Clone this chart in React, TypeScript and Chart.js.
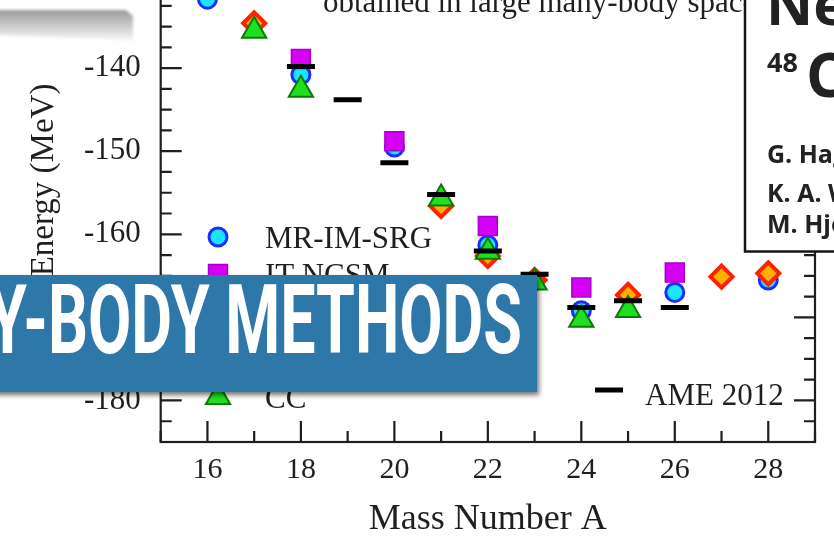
import React, { useEffect, useRef } from 'react';
import { Chart, registerables } from 'chart.js';
import { drawPoint } from 'chart.js/helpers';

Chart.register(...registerables);

// Ground-state energies of the oxygen isotopes (MeV)
const massNumbers = [16, 17, 18, 19, 20, 21, 22, 23, 24, 25, 26, 27, 28];
const mrImSrg = [-131.7, null, -140.8, null, -149.5, null, -161.3, null, -169.2, null, -167.0, null, -165.5];
const itNcsm = [null, null, -138.9, null, -148.8, null, -159.0, null, -166.4, null, -164.6, null, null];
const scgf = [null, -134.6, null, null, null, -156.6, -162.6, -165.5, null, -167.3, null, -165.1, -164.7];
const coupledCluster = [null, -135.5, -142.6, null, null, -155.7, -162.1, -165.8, -170.3, -169.1, null, null, null];
const ame2012 = [null, null, -139.8, -143.8, -151.4, -155.2, -162.0, -164.8, -168.8, -168.0, -168.8, null, null];

const xMajorTicks = [16, 18, 20, 22, 24, 26, 28];
const yMajorTicks = [-180, -170, -160, -150, -140, -130];

const W = 834;
const H = 544;
const SHIFT = 60; // canvas starts above the page so the plot's top runs off the edge
const SERIF = '"Liberation Serif", "Times New Roman", serif';
const INK = '#1f1f1f';

const styles = {
  ame: { pointStyle: 'line', radius: 14, borderWidth: 5, bg: '#000000', border: '#000000' },
  cc: { pointStyle: 'triangle', radius: 14, borderWidth: 2, bg: '#1fe01f', border: '#0b7a0b' },
  scgf: { pointStyle: 'rectRot', radius: 11, borderWidth: 4, bg: '#ffb000', border: '#ff2200' },
  ncsm: { pointStyle: 'rect', radius: 13.4, borderWidth: 1.5, bg: '#d600f4', border: '#a800cc' },
  srg: { pointStyle: 'circle', radius: 9, borderWidth: 3, bg: '#1ae4ff', border: '#1b2dff' },
};

function pts(values: (number | null)[]) {
  const out: { x: number; y: number }[] = [];
  values.forEach((v, i) => {
    if (v !== null) out.push({ x: massNumbers[i], y: v });
  });
  return out;
}

function ds(label: string, values: (number | null)[], s: any) {
  return {
    label,
    data: pts(values),
    showLine: false,
    pointStyle: s.pointStyle,
    pointRadius: s.radius,
    pointBorderWidth: s.borderWidth,
    pointBackgroundColor: s.bg,
    pointBorderColor: s.border,
    backgroundColor: s.bg,
    borderColor: s.border,
  };
}

const legendEntries = [
  { text: 'MR-IM-SRG', style: styles.srg, mx: 218, my: 237, tx: 265, ty: 248 },
  { text: 'IT-NCSM', style: styles.ncsm, mx: 218, my: 274, tx: 265, ty: 285 },
  { text: 'CC', style: styles.cc, mx: 218, my: 397, tx: 265, ty: 408 },
  { text: 'AME 2012', style: styles.ame, mx: 609, my: 390, tx: 645, ty: 405 },
];

const framePlugin = {
  id: 'frameTicks',
  beforeDatasetsDraw(chart: any) {
    const { ctx, chartArea: a, scales } = chart;
    ctx.save();
    ctx.strokeStyle = INK;
    ctx.lineWidth = 2.2;
    ctx.strokeRect(a.left, a.top, a.right - a.left, a.bottom - a.top);
    ctx.beginPath();
    scales.x.ticks.forEach((t: any) => {
      const px = scales.x.getPixelForValue(t.value);
      const len = Math.abs(t.value % 2) < 1e-6 ? 21 : 11;
      ctx.moveTo(px, a.bottom);
      ctx.lineTo(px, a.bottom - len);
      ctx.moveTo(px, a.top);
      ctx.lineTo(px, a.top + len);
    });
    scales.y.ticks.forEach((t: any) => {
      const py = scales.y.getPixelForValue(t.value);
      const len = Math.abs(t.value % 10) < 1e-6 ? 21 : 11;
      ctx.moveTo(a.left, py);
      ctx.lineTo(a.left + len, py);
      ctx.moveTo(a.right, py);
      ctx.lineTo(a.right - len, py);
    });
    ctx.stroke();
    ctx.restore();
  },
  afterDatasetsDraw(chart: any) {
    const { ctx, chartArea: a } = chart;
    ctx.save();
    ctx.fillStyle = INK;
    ctx.font = `31px ${SERIF}`;
    ctx.textBaseline = 'alphabetic';
    ctx.textAlign = 'left';
    ctx.fillText('obtained in large many-body space', 323, 11.5 + SHIFT);
    legendEntries.forEach((e) => {
      const s = e.style;
      ctx.fillStyle = s.bg;
      ctx.strokeStyle = s.border;
      ctx.lineWidth = s.borderWidth;
      drawPoint(ctx, { pointStyle: s.pointStyle, radius: s.radius, rotation: 0, borderWidth: s.borderWidth }, e.mx, e.my + SHIFT);
      ctx.fillStyle = INK;
      ctx.fillText(e.text, e.tx, e.ty + SHIFT);
    });
    // axis titles
    ctx.font = `36px ${SERIF}`;
    ctx.textAlign = 'center';
    ctx.fillText('Mass Number A', (a.left + a.right) / 2, 529 + SHIFT);
    ctx.font = `33px ${SERIF}`;
    ctx.translate(44.5, 180 + SHIFT);
    ctx.rotate(-Math.PI / 2);
    ctx.textBaseline = 'middle';
    ctx.fillText('Energy (MeV)', 0, 0);
    ctx.restore();
  },
};

export default function App() {
  const ref = useRef<HTMLCanvasElement>(null);

  useEffect(() => {
    if (!ref.current) return;
    const chart = new Chart(ref.current, {
      type: 'scatter',
      data: {
        datasets: [
          ds('AME 2012', ame2012, styles.ame),
          ds('CC', coupledCluster, styles.cc),
          ds('SCGF', scgf, styles.scgf),
          ds('IT-NCSM', itNcsm, styles.ncsm),
          ds('MR-IM-SRG', mrImSrg, styles.srg),
        ] as any,
      },
      options: {
        animation: false,
        responsive: false,
        events: [],
        layout: { padding: { top: 24.25, right: 10.7, left: 0, bottom: 0 } },
        plugins: { legend: { display: false }, tooltip: { enabled: false } },
        scales: {
          x: {
            type: 'linear',
            min: 15,
            max: 29,
            grid: { display: false, drawTicks: false },
            border: { display: false },
            afterFit: (s: any) => {
              s.height = 102;
              s.paddingLeft = 0;
              s.paddingRight = 0;
            },
            ticks: {
              stepSize: 1,
              autoSkip: false,
              maxRotation: 0,
              padding: 10,
              color: INK,
              font: { family: SERIF, size: 30 },
              callback: (v: any) => (xMajorTicks.includes(Number(v)) ? String(v) : ''),
            },
          },
          y: {
            type: 'linear',
            min: -185,
            max: -127.5,
            grid: { display: false, drawTicks: false },
            border: { display: false },
            afterFit: (s: any) => {
              s.width = 160.7;
              s.paddingTop = 0;
              s.paddingBottom = 0;
            },
            ticks: {
              stepSize: 2.5,
              autoSkip: false,
              padding: 20,
              color: INK,
              font: { family: SERIF, size: 31 },
              callback: (v: any) => (yMajorTicks.some((m) => Math.abs(m - Number(v)) < 1e-6) ? String(v) : ''),
            },
          },
        },
      },
      plugins: [framePlugin],
    });
    return () => chart.destroy();
  }, []);

  return (
    <div style={{ position: 'absolute', left: 0, top: 0, width: W, height: H, overflow: 'hidden', background: '#ffffff' }}>
      <canvas ref={ref} width={W} height={H + SHIFT} style={{ position: 'absolute', left: 0, top: -SHIFT, width: W, height: H + SHIFT }} />
      <svg width={W} height={H} style={{ position: 'absolute', left: 0, top: 0 }}>
        <defs>
          <linearGradient id="curl" x1="0" y1="0" x2="0" y2="1">
            <stop offset="0" stopColor="#9a9a9a" />
            <stop offset="0.45" stopColor="#c4c4c4" />
            <stop offset="1" stopColor="#f6f6f6" />
          </linearGradient>
          <filter id="soft" x="-10%" y="-30%" width="120%" height="160%">
            <feGaussianBlur stdDeviation="1.5" />
          </filter>
          <filter id="shadow" x="-5%" y="-10%" width="115%" height="130%">
            <feDropShadow dx="2" dy="3" stdDeviation="2.5" floodColor="#000" floodOpacity="0.55" />
          </filter>
        </defs>
        <polygon points="-5,10 126,10 133,16 133,40 -5,35" fill="url(#curl)" filter="url(#soft)" />
        <rect x={745} y={-20} width={120} height={271.5} fill="#ffffff" stroke="#151515" strokeWidth={2.5} />
        <g fontFamily='"Open Sans", "Noto Sans", sans-serif' fontWeight={700} fill="#222222">
          <text x={766} y={25} fontSize={58}>Neutron</text>
          <text x={767} y={72} fontSize={27}>48</text>
          <text x={806} y={97} fontSize={60}>Ca</text>
          <text x={767} y={163} fontSize={25}>G. Hagen</text>
          <text x={767} y={202} fontSize={25}>K. A. Wendt</text>
          <text x={767} y={233} fontSize={25}>M. Hjorth-Jensen</text>
        </g>
        <rect x={-10} y={275} width={547} height={117} fill="#2e77a9" filter="url(#shadow)" />
        <text x={-12} y={353} fontFamily="Roboto, sans-serif" fontWeight={700} fontSize={96} fill="#ffffff" textLength={534} lengthAdjust="spacingAndGlyphs">
          Y-BODY METHODS
        </text>
      </svg>
    </div>
  );
}
